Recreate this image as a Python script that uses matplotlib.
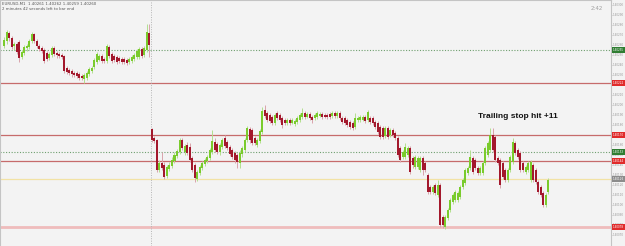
import matplotlib
matplotlib.use("Agg")
import matplotlib.pyplot as plt
import matplotlib.transforms as mtransforms
import numpy as np

# prices in points above 1.40000 (1 point = 0.00001), one entry per bar, oldest first
OPEN = [
    # before the gap
    259, 264, 272, 267, 259, 261, 263, 248, 252, 257, 258, 264, 271, 264, 259, 257, 255, 252, 247, 250,
    257, 252, 251, 250, 249, 237, 235, 234, 232, 232, 231, 229, 226, 227, 231, 234, 238, 243, 245, 249,
    246, 244, 258, 251, 249, 248, 247, 246, 246, 245, 243, 244, 246, 248, 248, 256, 250, 255, 272,
    # after the gap
    176, 167, 165, 135, 142, 140, 129, 136, 139, 144, 149, 153, 165, 153, 160, 158, 147, 140, 126, 132,
    137, 141, 144, 147, 153, 163, 161, 153, 158, 167, 163, 158, 155, 152, 150, 142, 151, 155, 165, 176,
    175, 167, 160, 164, 173, 195, 192, 190, 188, 182, 192, 190, 187, 185, 182, 185, 182,
    181, 183, 185, 188, 192, 188, 191, 188, 187, 188, 189, 191, 190, 190, 191, 189, 192, 189, 192, 187,
    187, 185, 183, 182, 178, 185, 185, 185, 188, 185, 187, 187, 183, 182, 178, 177, 169, 177, 170, 175,
    172, 167, 157, 148, 148, 150, 157, 147, 138, 138, 135, 147, 142,
    130, 118, 113, 120, 110, 120, 88, 78, 87, 95, 103, 105, 105, 108, 118, 122, 132, 137, 147, 145,
    137, 132, 132, 142, 150, 155, 170, 168, 147, 145, 142, 135, 125, 135, 143, 162, 155, 152, 142, 133,
    135, 125, 140, 135, 123, 118, 112, 100, 113,
]
HIGH = [
    268, 275, 274, 269, 263, 263, 265, 255, 260, 261, 266, 273, 272, 266, 261, 259, 257, 254, 253, 259,
    259, 254, 253, 252, 250, 239, 237, 236, 234, 234, 233, 231, 232, 234, 238, 239, 247, 253, 251, 251,
    248, 261, 260, 253, 251, 250, 249, 248, 248, 247, 248, 250, 252, 256, 258, 258, 259, 281, 281,
    177, 169, 166, 145, 153, 143, 140, 143, 148, 153, 156, 167, 167, 161, 163, 162, 149, 142, 135, 140,
    144, 147, 150, 157, 175, 167, 163, 162, 167, 170, 165, 160, 157, 154, 152, 155, 159, 167, 179, 178,
    177, 169, 167, 176, 198, 200, 194, 192, 190, 192, 194, 192, 189, 187, 187, 187, 187,
    186, 189, 192, 197, 194, 193, 193, 190, 192, 194, 193, 193, 192, 192, 193, 194, 194, 194, 194, 189,
    189, 187, 185, 184, 192, 189, 190, 190, 190, 195, 189, 189, 185, 184, 180, 179, 179, 179, 177, 177,
    174, 169, 159, 155, 162, 159, 159, 149, 150, 149, 149, 149, 144,
    132, 120, 120, 122, 125, 122, 90, 90, 97, 107, 112, 115, 114, 120, 127, 137, 139, 155, 149, 147,
    139, 139, 144, 159, 164, 177, 177, 170, 149, 147, 144, 137, 137, 150, 167, 164, 157, 154, 144, 140,
    144, 145, 142, 137, 125, 120, 114, 112, 127,
]
LOW = [
    257, 261, 264, 256, 255, 251, 243, 246, 250, 254, 256, 262, 262, 257, 254, 252, 242, 244, 245, 248,
    249, 247, 247, 246, 232, 231, 230, 228, 228, 227, 225, 225, 222, 225, 229, 232, 236, 241, 244, 242,
    242, 242, 247, 242, 243, 241, 242, 241, 241, 240, 241, 242, 244, 246, 246, 247, 248, 253, 248,
    163, 162, 133, 133, 135, 126, 127, 134, 137, 142, 147, 151, 155, 150, 150, 143, 133, 123, 124, 130,
    135, 139, 142, 145, 151, 153, 151, 150, 156, 157, 155, 149, 146, 142, 137, 137, 148, 153, 163, 162,
    160, 160, 158, 162, 171, 187, 183, 182, 180, 180, 185, 183, 177, 180, 180, 180, 181,
    179, 181, 183, 186, 186, 187, 185, 182, 185, 186, 188, 186, 187, 186, 186, 187, 187, 187, 185, 181,
    180, 178, 176, 175, 176, 183, 183, 184, 182, 183, 181, 180, 176, 171, 166, 166, 167, 166, 168, 168,
    165, 148, 143, 146, 146, 148, 131, 137, 136, 136, 133, 130, 133,
    111, 111, 111, 110, 108, 78, 77, 76, 85, 93, 101, 103, 103, 106, 116, 120, 130, 135, 131, 135,
    130, 130, 130, 140, 148, 153, 153, 143, 140, 117, 126, 123, 123, 133, 141, 150, 146, 133, 133, 131,
    133, 123, 123, 121, 111, 108, 98, 98, 111,
]
CLOSE = [
    265, 273, 267, 258, 261, 253, 247, 253, 258, 259, 264, 271, 264, 259, 256, 254, 244, 246, 251, 257,
    251, 250, 249, 248, 234, 233, 232, 231, 230, 229, 227, 227, 230, 232, 236, 237, 245, 251, 249, 244,
    244, 259, 249, 244, 245, 243, 244, 243, 243, 242, 246, 248, 250, 254, 256, 249, 257, 273, 260,
    165, 164, 135, 142, 137, 128, 138, 140, 145, 150, 154, 165, 157, 159, 152, 145, 135, 127, 133, 138,
    142, 145, 148, 155, 164, 155, 153, 160, 165, 159, 157, 151, 148, 145, 143, 152, 157, 165, 177, 165,
    162, 162, 165, 174, 194, 189, 185, 184, 182, 190, 187, 185, 180, 182, 185, 182, 185,
    184, 187, 190, 192, 188, 191, 187, 185, 190, 192, 191, 188, 188, 188, 188, 192, 189, 192, 187, 183,
    182, 180, 178, 177, 187, 187, 188, 188, 184, 193, 183, 182, 178, 173, 168, 168, 177, 168, 175, 170,
    167, 150, 145, 153, 158, 157, 133, 140, 148, 147, 147, 135, 135,
    113, 113, 118, 112, 120, 80, 80, 88, 95, 105, 110, 113, 112, 118, 125, 135, 137, 148, 133, 137,
    132, 137, 142, 157, 162, 170, 155, 145, 142, 120, 128, 125, 135, 148, 163, 152, 148, 135, 135, 138,
    142, 143, 125, 123, 113, 110, 100, 110, 125,
]
GAP_AFTER = 59  # bars before the session separator

# order levels drawn on the chart (points above 1.40000)
LEVEL_PTS = [255, 222, 170, 153, 144, 126, 78]
LEVEL_KIND = ["tp", "sl", "sl", "tp", "sl", "bid", "sl_old"]

HEADER = ["EURUSD,M1  1.40261 1.40262 1.40259 1.40260",
          "2 minutes 42 seconds left to bar end"]
NOTE = "Trailing stop hit +11"
TIMER = "2:42"

BG = "#f3f3f3"
UP, DOWN = "#7acb2c", "#a3182c"
UP_WICK, DOWN_WICK = "#b3df8e", "#d9a3ab"
LINE_STYLE = {
    "tp": dict(color="#6f9f6f", lw=0.8, ls=(0, (1, 1.5))),
    "sl": dict(color="#c66b6b", lw=0.9, ls="-"),
    "bid": dict(color="#f2e2a4", lw=0.9, ls="-"),
    "sl_old": dict(color="#efbcbc", lw=2.0, ls="-"),
}
BOX_COLOR = {"tp": "#2f7d32", "sl": "#e02b2b", "bid": "#8c8c8c", "sl_old": "#e02b2b"}


def price_label(p):
    return f"1.40{p:03d}"


o, h, l, c = (np.array(a, dtype=float) for a in (OPEN, HIGH, LOW, CLOSE))
x = np.arange(len(o))
up = c >= o

fig = plt.figure(figsize=(6.25, 2.46), dpi=100)
fig.patch.set_facecolor(BG)
ax = fig.add_axes([0, 0, 611 / 625, 1])
ax.set_facecolor(BG)

for kind, lvl in zip(LEVEL_KIND, LEVEL_PTS):
    ax.axhline(lvl, zorder=1, **LINE_STYLE[kind])
ax.axvline(GAP_AFTER - 0.5, color="#b5b5b5", lw=0.7, ls=(0, (1, 1.5)), zorder=1)

ax.vlines(x[up], l[up], h[up], color=UP_WICK, lw=0.7, zorder=2)
ax.vlines(x[~up], l[~up], h[~up], color=DOWN_WICK, lw=0.7, zorder=2)
lo = np.minimum(o, c)
hgt = np.maximum(np.abs(c - o), 0.8)
ax.bar(x[up], hgt[up], bottom=lo[up], width=0.8, color=UP, linewidth=0, zorder=3)
ax.bar(x[~up], hgt[~up], bottom=lo[~up], width=0.8, color=DOWN, linewidth=0, zorder=3)

ax.set_xlim(-1.6, 242.1)
ax.set_ylim(59, 305)
ax.set_xticks([])

ax.yaxis.tick_right()
ticks = np.arange(70, 301, 10)
ax.set_yticks(ticks)
ax.set_yticklabels([price_label(t) for t in ticks])
ax.tick_params(axis="y", length=1.0, width=0.4, pad=0.4, labelsize=2.0,
               colors="#9a9a9a")
ax.spines["bottom"].set_visible(False)
for side in ("top", "left", "right"):
    ax.spines[side].set_color("#c4c4c4")
    ax.spines[side].set_linewidth(0.8)

trans = mtransforms.blended_transform_factory(ax.transAxes, ax.transData)
for kind, lvl in zip(LEVEL_KIND, LEVEL_PTS):
    ax.text(1.003, lvl, price_label(lvl), transform=trans, fontsize=2.0, color="white",
            ha="left", va="center", clip_on=False, zorder=6,
            bbox=dict(boxstyle="square,pad=0.25", fc=BOX_COLOR[kind], ec="none"))

ax.text(478 / 611, 1 - 117 / 246, NOTE, transform=ax.transAxes, fontsize=6,
        fontweight="bold", family="Liberation Sans", ha="left", va="center",
        color="#111111")
ax.text(597 / 611, 1 - 9 / 246, TIMER, transform=ax.transAxes, fontsize=4,
        color="#a0a0a0", ha="center", va="center")
for i, line in enumerate(HEADER):
    ax.text(0.004, 1 - (4 + i * 5) / 246, line, transform=ax.transAxes, fontsize=2.8,
            color="#555555", ha="left", va="center")

fig.savefig("out.png", dpi=100, facecolor=BG)
